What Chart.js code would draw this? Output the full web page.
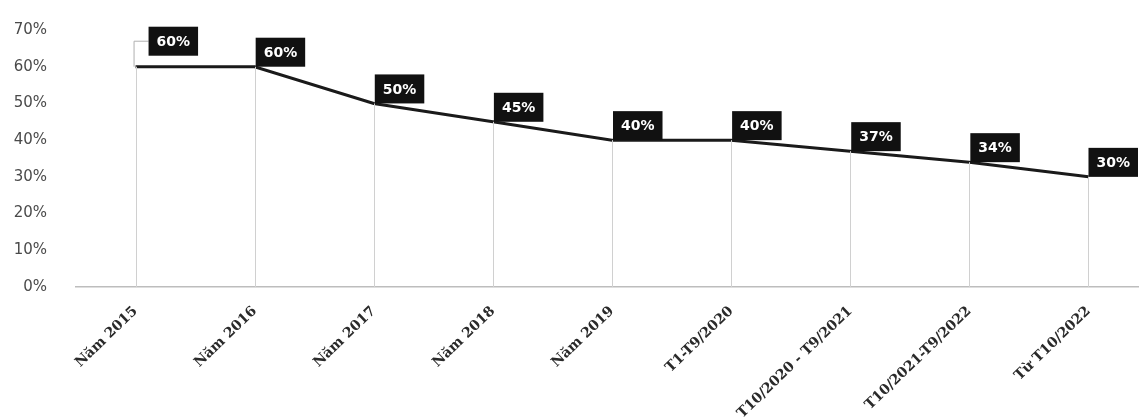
<!DOCTYPE html>
<html>
<head>
<meta charset="utf-8">
<script src="https://cdn.jsdelivr.net/npm/chart.js@4.4.1/dist/chart.umd.min.js"></script>
<style>
  html, body { margin: 0; padding: 0; background: #fff; overflow: hidden; }
  #wrap { width: 1150px; height: 417px; position: relative; }
</style>
</head>
<body>
<div id="wrap"><canvas id="chart"></canvas></div>
<script>
const categories = ['Năm 2015', 'Năm 2016', 'Năm 2017', 'Năm 2018', 'Năm 2019',
    'T1-T9/2020', 'T10/2020 - T9/2021', 'T10/2021-T9/2022', 'Từ T10/2022'];
const rates = [60, 60, 50, 45, 40, 40, 37, 34, 30];
const yTicks = [0, 10, 20, 30, 40, 50, 60, 70];

// nhãn giá trị dạng hộp đen + đường thả xuống trục x
const labelPlugin = {
    id: 'boxLabels',
    afterDatasetsDraw(chart) {
        const ctx = chart.ctx;
        const meta = chart.getDatasetMeta(0);
        const bottom = chart.chartArea.bottom;
        ctx.save();
        meta.data.forEach((pt, i) => {
            // đường thả
            ctx.strokeStyle = '#d0d0d0';
            ctx.lineWidth = 1;
            ctx.beginPath();
            ctx.moveTo(Math.round(pt.x) + 0.5, pt.y);
            ctx.lineTo(Math.round(pt.x) + 0.5, bottom);
            ctx.stroke();
        });
        meta.data.forEach((pt, i) => {
            const text = rates[i] + '%';
            ctx.font = 'bold 14px "DejaVu Sans"';
            const w = ctx.measureText(text).width + 16;
            const h = 29;
            let left = Math.min(pt.x + 1, chart.width - 12 - w);
            let top = pt.y - h;
            if (i === 0) {
                left = pt.x + 13;
                top = pt.y - h - 11;
                ctx.strokeStyle = '#b0b0b0';
                ctx.lineWidth = 1;
                ctx.beginPath();
                ctx.moveTo(pt.x - 1.5, pt.y);
                ctx.lineTo(pt.x - 1.5, top + h / 2);
                ctx.lineTo(left, top + h / 2);
                ctx.stroke();
            }
            ctx.fillStyle = '#111';
            ctx.fillRect(left, top, w, h);
            ctx.fillStyle = '#fff';
            ctx.textAlign = 'center';
            ctx.textBaseline = 'middle';
            ctx.fillText(text, left + w / 2, top + h / 2 + 1);
        });
        ctx.restore();
    }
};

new Chart(document.getElementById('chart'), {
    type: 'line',
    data: {
        labels: categories,
        datasets: [{
            data: rates,
            borderColor: '#1a1a1a',
            borderWidth: 3,
            tension: 0,
            pointRadius: 0,
            fill: false
        }]
    },
    options: {
        responsive: true,
        maintainAspectRatio: false,
        animation: false,
        layout: { padding: { top: 25, right: 2, left: 0, bottom: 0 } },
        plugins: {
            legend: { display: false },
            tooltip: { enabled: false }
        },
        scales: {
            x: {
                offset: true,
                grid: { display: false, offset: false },
                border: { display: true, color: '#bdbdbd', width: 1.5 },
                ticks: {
                    minRotation: 44,
                    maxRotation: 44,
                    autoSkip: false,
                    padding: 8,
                    color: '#2a2a2a',
                    font: { family: '"DejaVu Serif"', size: 14, weight: 'bold' }
                },
                afterFit(scale) { scale.height = 130; }
            },
            y: {
                min: 0,
                max: 70,
                afterBuildTicks(scale) { scale.ticks = yTicks.map(v => ({ value: v })); },
                grid: { display: false },
                border: { display: false },
                ticks: {
                    padding: 21,
                    color: '#4a4a4a',
                    font: { family: '"DejaVu Sans"', size: 15 },
                    callback: v => v + '%'
                },
                afterFit(scale) { scale.width = 76; }
            }
        }
    },
    plugins: [labelPlugin]
});
</script>
</body>
</html>
